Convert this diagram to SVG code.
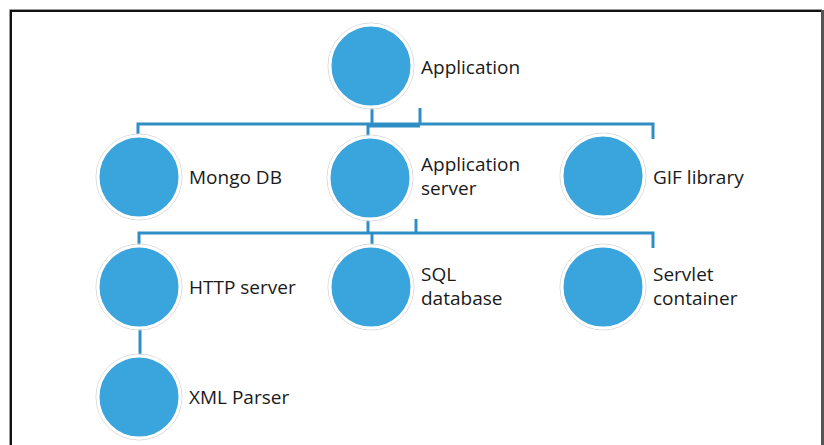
<svg xmlns="http://www.w3.org/2000/svg" width="824" height="445" viewBox="0 0 824 445">
<style>
.node circle.fill{fill:#39A5DC;stroke:#ffffff;stroke-width:3}
.node circle.ring{fill:none;stroke:#d9d9d9;stroke-width:1}
.lbl{font-family:"Open Sans","Liberation Sans",sans-serif;font-size:19px;fill:#1a1a1a}
.conn{fill:none;stroke:#2F8EC4;stroke-width:3;stroke-linecap:butt}
</style>
<rect x="0" y="0" width="824" height="445" fill="#ffffff"/>
<path d="M9.5 445 V9.5 H822" fill="none" stroke="#9a9a9a" stroke-width="1"/>
<path d="M11 445 V11 H822" fill="none" stroke="#111111" stroke-width="2"/>
<rect x="821" y="10" width="3" height="435" fill="#555555"/>
<g id="connectors">
<path class="conn" d="M372 106 V124"/>
<path class="conn" d="M368 124 V136"/>
<path class="conn" d="M420 108 V124"/>
<path class="conn" d="M138 134 V124 H653 V139"/>
<path class="conn" d="M368 126 H420" stroke-width="2"/>
<path class="conn" d="M368 218 V233"/>
<path class="conn" d="M372 233 V245"/>
<path class="conn" d="M416 219 V233"/>
<path class="conn" d="M139 245 V233 H653 V248"/>
<path class="conn" d="M140 329 V356"/>
</g>
<g id="application" class="node"><circle class="ring" cx="371" cy="66" r="43"/><circle class="fill" cx="371" cy="66" r="41"/><text class="lbl" x="421" y="74">Application</text></g>
<g id="mongodb" class="node"><circle class="ring" cx="139" cy="177" r="43"/><circle class="fill" cx="139" cy="177" r="41"/><text class="lbl" x="189" y="184">Mongo DB</text></g>
<g id="appserver" class="node"><circle class="ring" cx="370" cy="178" r="43"/><circle class="fill" cx="370" cy="178" r="41"/><text class="lbl" x="421" y="171">Application</text><text class="lbl" x="421" y="195">server</text></g>
<g id="giflibrary" class="node"><circle class="ring" cx="603" cy="176" r="43"/><circle class="fill" cx="603" cy="176" r="41"/><text class="lbl" x="653" y="184">GIF library</text></g>
<g id="httpserver" class="node"><circle class="ring" cx="139" cy="287" r="43"/><circle class="fill" cx="139" cy="287" r="41"/><text class="lbl" x="189" y="294">HTTP server</text></g>
<g id="sqldatabase" class="node"><circle class="ring" cx="371" cy="287" r="43"/><circle class="fill" cx="371" cy="287" r="41"/><text class="lbl" x="421" y="281">SQL</text><text class="lbl" x="421" y="305">database</text></g>
<g id="servlet" class="node"><circle class="ring" cx="603" cy="287" r="43"/><circle class="fill" cx="603" cy="287" r="41"/><text class="lbl" x="653" y="281">Servlet</text><text class="lbl" x="653" y="305">container</text></g>
<g id="xmlparser" class="node"><circle class="ring" cx="139" cy="397" r="43"/><circle class="fill" cx="139" cy="397" r="41"/><text class="lbl" x="189" y="404">XML Parser</text></g>
</svg>
